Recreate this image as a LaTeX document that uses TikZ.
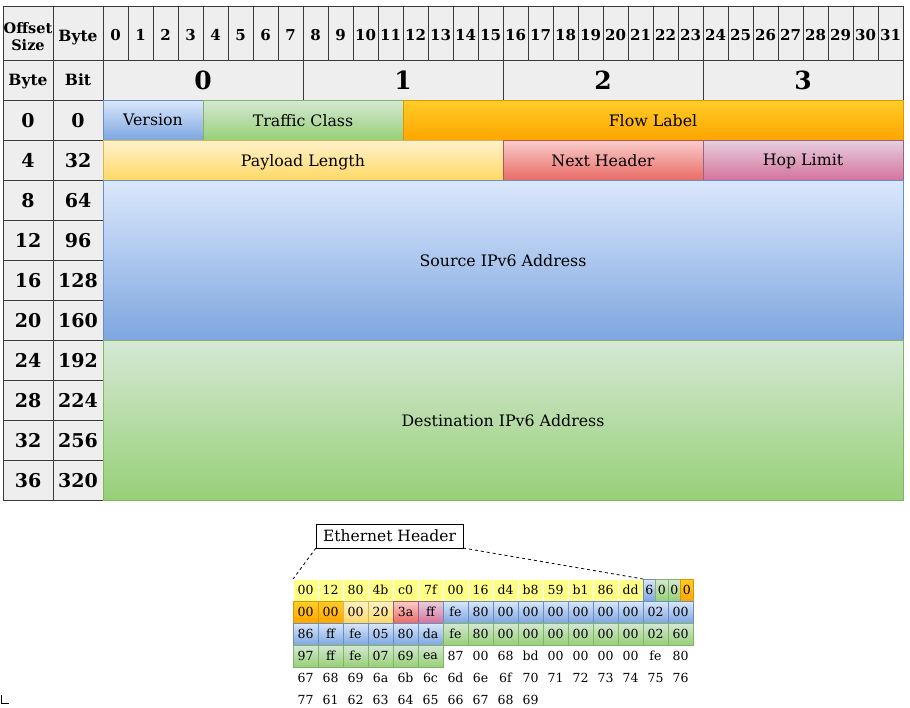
\documentclass[tikz,border=0pt]{standalone}
\usepackage{fontspec}
\setmainfont{DejaVu Serif}

\definecolor{hdrfill}{HTML}{EEEEEE}
\definecolor{hdrline}{HTML}{36393D}
\definecolor{blutop}{HTML}{DAE8FC}
\definecolor{blubot}{HTML}{7EA6E0}
\definecolor{bluline}{HTML}{6C8EBF}
\definecolor{grntop}{HTML}{D5E8D4}
\definecolor{grnbot}{HTML}{97D077}
\definecolor{grnline}{HTML}{82B366}
\definecolor{orgtop}{HTML}{FFCD28}
\definecolor{orgbot}{HTML}{FFA500}
\definecolor{orgline}{HTML}{D79B00}
\definecolor{ylwtop}{HTML}{FFF2CC}
\definecolor{ylwbot}{HTML}{FFD966}
\definecolor{ylwline}{HTML}{D6B656}
\definecolor{redtop}{HTML}{F8CECC}
\definecolor{redbot}{HTML}{EA6B66}
\definecolor{redline}{HTML}{B85450}
\definecolor{pnktop}{HTML}{E6D0DE}
\definecolor{pnkbot}{HTML}{D5739D}
\definecolor{pnkline}{HTML}{996185}
\definecolor{hexyel}{HTML}{FFFF88}

\begin{document}
\begin{tikzpicture}[x=1pt,y=-1pt,node distance=40pt]
\tikzstyle{cell}=[rectangle, inner sep=0pt, outer sep=0pt, line width=1pt, text depth=0pt]
\tikzstyle{hd}=[cell, draw=hdrline, fill=hdrfill, font=\fontsize{15.5}{18}\selectfont\bfseries]
\tikzstyle{bitc}=[hd, minimum width=25pt, minimum height=54pt, text height=14pt, font=\fontsize{15}{18}\selectfont\bfseries]
\tikzstyle{bytc}=[hd, minimum width=200pt, minimum height=40pt, font=\fontsize{25}{28}\selectfont\bfseries]
\tikzstyle{numc}=[hd, minimum width=50pt, minimum height=40pt, font=\fontsize{19}{22}\selectfont\bfseries]
\tikzstyle{fld}=[cell, minimum height=40pt, font=\fontsize{15.8}{18}\selectfont]
\tikzstyle{fblu}=[fld, draw=bluline, top color=blutop, bottom color=blubot]
\tikzstyle{fgrn}=[fld, draw=grnline, top color=grntop, bottom color=grnbot]
\tikzstyle{forg}=[fld, draw=orgline, top color=orgtop, bottom color=orgbot]
\tikzstyle{fylw}=[fld, draw=ylwline, top color=ylwtop, bottom color=ylwbot]
\tikzstyle{fred}=[fld, draw=redline, top color=redtop, bottom color=redbot]
\tikzstyle{fpnk}=[fld, draw=pnkline, top color=pnktop, bottom color=pnkbot]
\tikzstyle{hx}=[cell, minimum width=25pt, minimum height=22pt, font=\fontsize{12.5}{15}\selectfont]
\tikzstyle{hxy}=[hx, draw=white, fill=hexyel]
\tikzstyle{hxb}=[hx, draw=bluline, top color=blutop, bottom color=blubot]
\tikzstyle{hxg}=[hx, draw=grnline, top color=grntop, bottom color=grnbot]
\tikzstyle{hxo}=[hx, draw=orgline, top color=orgtop, bottom color=orgbot]
\tikzstyle{hxl}=[hx, draw=ylwline, top color=ylwtop, bottom color=ylwbot]
\tikzstyle{hxr}=[hx, draw=redline, top color=redtop, bottom color=redbot]
\tikzstyle{hxp}=[hx, draw=pnkline, top color=pnktop, bottom color=pnkbot]
\useasboundingbox (0,0) rectangle (910,707);
% header rows
\node (offs) [hd, align=center, minimum width=50pt, minimum height=54pt, font=\fontsize{14.5}{17}\selectfont\bfseries] at (28,33) {\rule{0pt}{17.5pt}Offset\\Size};
\node (byhd) [hd, minimum width=50pt, minimum height=54pt, text height=16pt, node distance=50pt, right of=offs] {Byte};
\foreach \i in {0,...,31}
  \node (bit\i) [bitc] at (115.5+25*\i,33) {\i};
\node (byte) [hd, minimum width=50pt, minimum height=40pt] at (28,80) {Byte};
\node (bit) [hd, minimum width=50pt, minimum height=40pt, node distance=50pt, right of=byte] {Bit};
\node (by0) [bytc] at (203,80) {0};
\node (by1) [bytc, node distance=200pt, right of=by0] {1};
\node (by2) [bytc, node distance=200pt, right of=by1] {2};
\node (by3) [bytc, node distance=200pt, right of=by2] {3};
% offsets
\node (l0) [numc] at (28,120) {0};
\node (r0) [numc, node distance=50pt, right of=l0] {0};
\node (l1) [numc, below of=l0] {4};
\node (r1) [numc, node distance=50pt, right of=l1] {32};
\node (l2) [numc, below of=l1] {8};
\node (r2) [numc, node distance=50pt, right of=l2] {64};
\node (l3) [numc, below of=l2] {12};
\node (r3) [numc, node distance=50pt, right of=l3] {96};
\node (l4) [numc, below of=l3] {16};
\node (r4) [numc, node distance=50pt, right of=l4] {128};
\node (l5) [numc, below of=l4] {20};
\node (r5) [numc, node distance=50pt, right of=l5] {160};
\node (l6) [numc, below of=l5] {24};
\node (r6) [numc, node distance=50pt, right of=l6] {192};
\node (l7) [numc, below of=l6] {28};
\node (r7) [numc, node distance=50pt, right of=l7] {224};
\node (l8) [numc, below of=l7] {32};
\node (r8) [numc, node distance=50pt, right of=l8] {256};
\node (l9) [numc, below of=l8] {36};
\node (r9) [numc, node distance=50pt, right of=l9] {320};
% fields
\node (ver) [fblu, minimum width=100pt] at (153,120) {Version};
\node (tcl) [fgrn, minimum width=200pt] at (303,120) {Traffic Class};
\node (flw) [forg, minimum width=500pt] at (653,120) {Flow Label};
\node (pay) [fylw, minimum width=400pt] at (303,160) {Payload Length};
\node (nxt) [fred, minimum width=200pt] at (603,160) {Next Header};
\node (hop) [fpnk, minimum width=200pt] at (803,160) {Hop Limit};
\node (src) [fblu, minimum width=800pt, minimum height=160pt] at (503,260) {Source IPv6 Address};
\node (dst) [fgrn, minimum width=800pt, minimum height=160pt] at (503,420) {Destination IPv6 Address};
% packet bytes
\foreach \v [count=\i from 0] in {00,12,80,4b,c0,7f,00,16,d4,b8,59,b1,86,dd}
  \node (h1-\i) [hxy] at (305.5+25*\i,590) {\v};
\node (n0) [hxb, minimum width=12.5pt] at (649.25,590) {6};
\node (n1) [hxg, minimum width=12.5pt] at (661.75,590) {0};
\node (n2) [hxg, minimum width=12.5pt] at (674.25,590) {0};
\node (n3) [hxo, minimum width=12.5pt] at (686.75,590) {0};
\node (h2-0) [hxo] at (305.5,612) {00};
\node (h2-1) [hxo] at (330.5,612) {00};
\node (h2-2) [hxl] at (355.5,612) {00};
\node (h2-3) [hxl] at (380.5,612) {20};
\node (h2-4) [hxr] at (405.5,612) {3a};
\node (h2-5) [hxp] at (430.5,612) {ff};
\foreach \v [count=\i from 6] in {fe,80,00,00,00,00,00,00,02,00}
  \node (h2-\i) [hxb] at (305.5+25*\i,612) {\v};
\foreach \v [count=\i from 0] in {86,ff,fe,05,80,da}
  \node (h3-\i) [hxb] at (305.5+25*\i,634) {\v};
\foreach \v [count=\i from 6] in {fe,80,00,00,00,00,00,00,02,60}
  \node (h3-\i) [hxg] at (305.5+25*\i,634) {\v};
\foreach \v [count=\i from 0] in {97,ff,fe,07,69,ea}
  \node (h4-\i) [hxg] at (305.5+25*\i,656) {\v};
\foreach \v [count=\i from 6] in {87,00,68,bd,00,00,00,00,fe,80}
  \node (h4-\i) [hx] at (305.5+25*\i,656) {\v};
\foreach \v [count=\i from 0] in {67,68,69,6a,6b,6c,6d,6e,6f,70,71,72,73,74,75,76}
  \node (h5-\i) [hx] at (305.5+25*\i,678) {\v};
\foreach \v [count=\i from 0] in {77,61,62,63,64,65,66,67,68,69}
  \node (h6-\i) [hx] at (305.5+25*\i,700) {\v};
% ethernet label
\node (eth) [cell, draw=black, minimum width=147pt, minimum height=24pt, font=\fontsize{15.5}{18}\selectfont] at (389.5,536) {Ethernet Header};
\draw[dashed, line width=0.8pt] (eth.south west) -- (h1-0.north west);
\draw[dashed, line width=0.8pt] (eth.south east) -- (h1-13.north east);
\draw[line width=1pt] (1.5,695) -- (1.5,703.5) -- (9,703.5);
\end{tikzpicture}
\end{document}
